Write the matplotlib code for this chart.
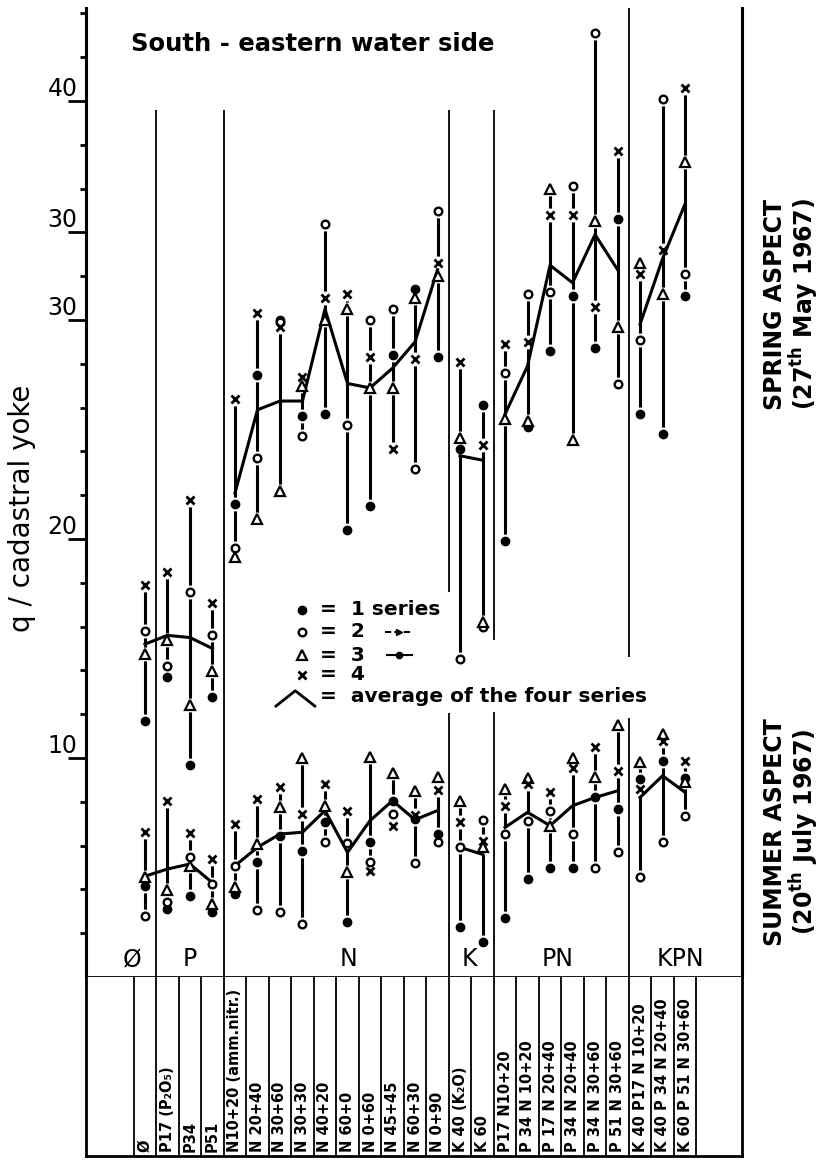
import matplotlib.pyplot as plt
import numpy as np

# Tratamientos (columnas de la tabla inferior)
tratamientos = ['Ø', 'P17 (P₂O₅)', 'P34', 'P51', 'N10+20 (amm.nitr.)', 'N 20+40',
                'N 30+60', 'N 30+30', 'N 40+20', 'N 60+0', 'N 0+60', 'N 45+45',
                'N 60+30', 'N 0+90', 'K 40 (K₂O)', 'K 60', 'P17 N10+20',
                'P 34 N 10+20', 'P 17 N 20+40', 'P 34 N 20+40', 'P 34 N 30+60',
                'P 51 N 30+60', 'K 40 P17 N 10+20', 'K 40 P 34 N 20+40',
                'K 60 P 51 N 30+60']
grupos = ['Ø', 'P', 'N', 'K', 'PN', 'KPN']

# Spring aspect (27th May 1967), q/cadastral yoke
prim_1 = [11.7, 13.7, 9.7, 12.8, 21.6, 27.5, 30.0, 25.6, 25.7, 20.4, 21.5, 28.4, 31.4,
          28.3, 24.1, 26.1, 19.9, 25.1, 28.6, 31.1, 28.7, 34.6, 25.7, 24.8, 31.1]
prim_2 = [15.8, 14.2, 17.6, 15.6, 19.6, 23.7, 29.9, 24.7, 34.4, 25.2, 30.0, 30.5, 23.2,
          35.0, 14.5, 16.0, 27.6, 31.2, 31.3, 36.1, 43.1, 27.1, 29.1, 40.1, 32.1]
prim_3 = [14.75, 15.4, 12.4, 13.95, 19.2, 20.9, 22.2, 27.0, 30.0, 30.5, 26.9, 26.9, 31.0,
          32.0, 24.6, 16.2, 25.5, 25.4, 36.0, 24.5, 34.5, 29.7, 32.6, 31.2, 37.2]
prim_4 = [17.9, 18.5, 21.8, 17.1, 26.4, 30.3, 29.7, 27.4, 31.0, 31.2, 28.3, 24.1, 28.2,
          32.6, 28.1, 24.3, 28.9, 29.0, 34.8, 34.8, 30.6, 37.7, 32.1, 33.2, 40.6]
prim_media = [15.2, 15.6, 15.5, 15.0, 22.1, 25.9, 26.3, 26.3, 30.5, 27.1, 26.9, 27.8, 29.0,
              32.3, 23.8, 23.6, 25.7, 27.9, 32.5, 31.7, 33.9, 32.3, 29.8, 32.8, 35.3]

# Summer aspect (20th July 1967)
ver_1 = [4.17, 3.1, 3.71, 2.95, 3.79, 5.27, 6.45, 5.77, 7.06, 2.5, 6.18, 8.05, 7.2,
         6.53, 2.28, 1.6, 2.7, 4.47, 5.0, 5.0, 8.2, 7.67, 9.04, 9.88, 9.1]
ver_2 = [2.8, 3.44, 5.5, 4.25, 5.08, 3.07, 2.98, 2.42, 6.15, 6.12, 5.24, 7.44, 5.21,
         6.18, 5.92, 7.18, 6.53, 7.14, 7.6, 6.53, 5.0, 5.69, 4.57, 6.18, 7.34]
ver_3 = [4.55, 3.99, 5.08, 3.33, 4.1, 6.07, 7.75, 9.99, 7.8, 4.81, 10.03, 9.32, 8.51,
         9.12, 8.05, 5.92, 8.58, 9.1, 6.91, 9.99, 9.12, 11.5, 9.8, 11.1, 8.9]
ver_4 = [6.6, 8.05, 6.58, 5.39, 6.99, 8.13, 8.66, 7.44, 8.81, 7.6, 4.85, 6.91, 7.4,
         8.55, 7.06, 6.22, 7.82, 8.8, 8.43, 9.53, 10.49, 9.42, 8.58, 10.79, 9.88]
ver_media = [4.6, 4.93, 5.16, 4.3, 5.08, 5.92, 6.53, 6.61, 7.6, 5.69, 7.14, 8.05, 7.18,
             7.6, 5.92, 5.6, 6.83, 7.52, 6.91, 7.82, 8.2, 8.5, 8.2, 9.19, 8.43]

# tramos de la linea de la media (Ø y P van unidos)
tramos = [(0, 4), (4, 14), (14, 16), (16, 22), (22, 25)]

W, H = 825, 1164


def caja(x0, y0, x1, y1):
    # pixeles -> fraccion de figura
    return [x0 / W, 1 - y1 / H, (x1 - x0) / W, (y1 - y0) / H]


fig = plt.figure(figsize=(8.25, 11.64), dpi=100)
ax = fig.add_axes(caja(86, 8, 742, 977))
ax_tab = fig.add_axes(caja(86, 977, 742, 1156))

ymax = 969 / 21.9
ax.set_xlim(-2.62, 26.53)
ax.set_ylim(0, ymax)

# Eje y
ax.set_yticks([10, 20, 30, 34, 40])
ax.set_yticklabels(['10', '20', '30', '30', '40'])
ax.set_yticks(np.arange(2, 45, 2), minor=True)
ax.tick_params(axis='y', which='major', length=13, width=2, labelsize=17, pad=-7)
ax.tick_params(axis='y', which='minor', length=4.5, width=2)
ax.tick_params(axis='x', bottom=False, labelbottom=False)
for lbl in ax.get_yticklabels():
    lbl.set_va('bottom')
ax.spines['top'].set_visible(False)
ax.spines['left'].set_linewidth(2.2)
ax.spines['right'].set_linewidth(2.2)
ax.spines['bottom'].set_linewidth(2)

# Separadores de grupos (con huecos donde va la leyenda)
sep = 'black'
ax.vlines([0.5, 3.5], 0, 39.6, color=sep, lw=1.3)
ax.vlines([13.5, 13.5], [0, 17.6], [12.04, 39.6], color=sep, lw=1.3)
ax.vlines([15.5, 15.5], [0, 15.39], [12.11, 39.6], color=sep, lw=1.3)
ax.vlines([21.5, 21.5], [0, 14.63], [11.82, ymax], color=sep, lw=1.3)


def dibujar_aspecto(s1, s2, s3, s4, media):
    x = np.arange(len(s1))
    datos = np.array([s1, s2, s3, s4])
    ax.vlines(x, datos.min(axis=0), datos.max(axis=0), color='black', lw=2.2, zorder=2)
    for serie in datos:
        ax.plot(x, serie, 'o', ms=9, color='white', zorder=3)  # hueco blanco
    for a, b in tramos:
        ax.plot(x[a:b], media[a:b], color='black', lw=2.2, zorder=3.5)
    ax.plot(x, s1, 'o', ms=6, color='black', zorder=4)
    ax.plot(x, s2, 'o', ms=5.5, mfc='white', mec='black', mew=1.7, zorder=4)
    ax.plot(x, s3, '^', ms=6.5, mfc='white', mec='black', mew=1.6, zorder=4)
    ax.plot(x, s4, 'x', ms=6, mec='black', mew=2, zorder=4)


dibujar_aspecto(prim_1, prim_2, prim_3, prim_4, prim_media)
dibujar_aspecto(ver_1, ver_2, ver_3, ver_4, ver_media)

# Leyenda dibujada a mano
ley_y = [16.76, 15.77, 14.7, 13.8]
ax.plot(6.96, ley_y[0], 'o', ms=6, color='black')
ax.plot(6.96, ley_y[1], 'o', ms=5.5, mfc='white', mec='black', mew=1.7)
ax.plot(6.96, ley_y[2], '^', ms=6.5, mfc='white', mec='black', mew=1.6)
ax.plot(6.96, ley_y[3], 'x', ms=6, mec='black', mew=2)
textos_ley = ['=  1 series', '=  2', '=  3', '=  4']
for yy, t in zip(ley_y, textos_ley):
    ax.text(7.8, yy, t, fontsize=14.5, fontweight='bold', va='center', ha='left')
ax.plot([10.68, 11.78], [ley_y[1], ley_y[1]], color='black', lw=1.5, dashes=(3, 1.5))
ax.plot(11.3, ley_y[1], '>', ms=5, color='black')
ax.plot([10.75, 11.85], [ley_y[2], ley_y[2]], color='black', lw=1.5)
ax.plot(11.3, ley_y[2], 'o', ms=4.5, color='black')
ax.plot([5.82, 6.68, 7.55], [12.37, 13.07, 12.37], color='black', lw=2)
ax.text(7.8, 12.8, '=  average of the four series', fontsize=14.5, fontweight='bold',
        va='center', ha='left')

# Titulo
ax.text(-0.6, 42.6, 'South - eastern water side', fontsize=17.5, fontweight='bold',
        va='center', ha='left')

# Nombres de los grupos
grupos_x = [-0.58, 1.99, 9.03, 14.41, 18.33, 23.8]
for gx, g in zip(grupos_x, grupos):
    ax.text(gx, 0.8, g, fontsize=17, ha='center', va='center')

# Tabla de tratamientos
ax_tab.set_xlim(ax.get_xlim())
ax_tab.set_ylim(0, 1)
ax_tab.set_xticks([])
ax_tab.set_yticks([])
ax_tab.spines['top'].set_visible(False)
for s in ['left', 'right', 'bottom']:
    ax_tab.spines[s].set_linewidth(2)
ax_tab.vlines(np.arange(len(tratamientos) + 1) - 0.5, 0, 1, color='black', lw=1.3)
for i, t in enumerate(tratamientos):
    ax_tab.text(i, 0.025, t, rotation=90, fontsize=10.5, fontweight='bold',
                ha='center', va='bottom')

# Textos laterales
fig.text(22 / W, 1 - 508 / H, 'q / cadastral yoke', rotation=90, fontsize=20,
         ha='center', va='center')
fig.text(775 / W, 1 - 304 / H, 'SPRING ASPECT', rotation=90, fontsize=17,
         fontweight='bold', ha='center', va='center')
fig.text(804 / W, 1 - 304 / H, r'(27$^{\mathbf{th}}$ May 1967)', rotation=90, fontsize=17,
         fontweight='bold', ha='center', va='center')
fig.text(775 / W, 1 - 832 / H, 'SUMMER ASPECT', rotation=90, fontsize=17,
         fontweight='bold', ha='center', va='center')
fig.text(804 / W, 1 - 832 / H, r'(20$^{\mathbf{th}}$ July 1967)', rotation=90, fontsize=17,
         fontweight='bold', ha='center', va='center')

fig.savefig('out.png', dpi=100, facecolor='white')
